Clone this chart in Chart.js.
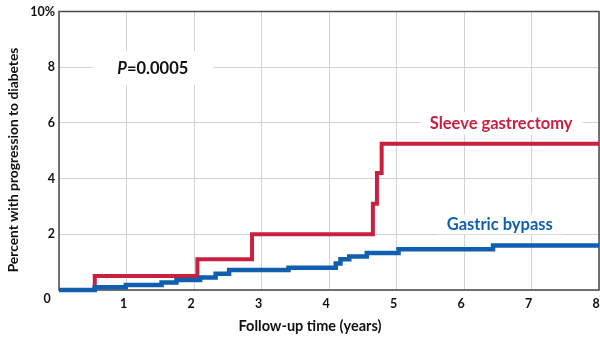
<!DOCTYPE html>
<html>
<head>
<meta charset="utf-8">
<script src="https://cdn.jsdelivr.net/npm/chart.js@4.4.0/dist/chart.umd.min.js"></script>
<style>
  html, body { margin: 0; padding: 0; background: #fff; }
  #wrap { width: 600px; height: 348px; }
</style>
</head>
<body>
<div id="wrap"><canvas id="kmChart"></canvas></div>
<script>
// follow-up years and cumulative % progression to diabetes (step curves)
const sleeveYears = [0, 0.53, 2.05, 2.86, 4.65, 4.71, 4.78, 8];
const sleeveValues = [0, 0.5, 1.1, 2.0, 3.1, 4.2, 5.25, 5.25];
const bypassYears = [0, 0.53, 0.99, 1.52, 1.74, 2.09, 2.32, 2.52, 3.4, 4.1, 4.17, 4.3, 4.56, 5.03, 6.43, 8];
const bypassValues = [0, 0.1, 0.18, 0.27, 0.36, 0.45, 0.58, 0.72, 0.8, 0.95, 1.1, 1.2, 1.33, 1.46, 1.6, 1.6];
const xTicks = [0, 1, 2, 3, 4, 5, 6, 7, 8];
const yTicks = [0, 2, 4, 6, 8, 10];
const seriesNames = ["Sleeve gastrectomy", "Gastric bypass"];
const pValueText = "0.0005";

const RED = "#c8203e";
const BLUE = "#0f5fae";
const FONT = "Lato, 'Open Sans', sans-serif";

// each point holds its value until the next year in the list
const toSteps = (xs, ys) => {
  const pts = [];
  xs.forEach((x, i) => {
    if (i > 0) pts.push({ x: x, y: ys[i - 1] });
    pts.push({ x: x, y: ys[i] });
  });
  return pts;
};

const labelBox = (ctx, text, cx, cy, font, color, padX, padY) => {
  ctx.font = font;
  const w = ctx.measureText(text).width;
  ctx.fillStyle = "#fff";
  ctx.fillRect(cx - w / 2 - padX, cy - 8 - padY, w + padX * 2, 16 + padY * 2);
  ctx.fillStyle = color;
  ctx.textAlign = "center";
  ctx.textBaseline = "middle";
  ctx.fillText(text, cx, cy);
};

// frame, in-plot labels and axis titles
const decorations = {
  id: "decorations",
  beforeDatasetsDraw(chart) {
    const { ctx, chartArea: a, scales } = chart;
    const x = scales.x, y = scales.y;
    ctx.save();

    // labels with white backing that hide the grid
    labelBox(ctx, seriesNames[0], x.getPixelForValue(6.55), y.getPixelForValue(5.98),
      "bold 16.5px " + FONT, RED, 10, 3);
    labelBox(ctx, seriesNames[1], x.getPixelForValue(6.53), y.getPixelForValue(2.36),
      "bold 16.5px " + FONT, BLUE, 10, 2);

    // P value, italic P
    const px = x.getPixelForValue(1.39), py = y.getPixelForValue(7.93);
    ctx.fillStyle = "#fff";
    ctx.fillRect(px - 60, py - 18, 120, 34);
    ctx.fillStyle = "#111";
    ctx.textBaseline = "middle";
    ctx.font = "italic bold 16.5px " + FONT;
    const pw = ctx.measureText("P").width;
    ctx.font = "bold 16.5px " + FONT;
    const rest = "=" + pValueText;
    const rw = ctx.measureText(rest).width;
    const startX = px - (pw + rw) / 2;
    ctx.textAlign = "left";
    ctx.font = "italic bold 16.5px " + FONT;
    ctx.fillText("P", startX, py);
    ctx.font = "bold 16.5px " + FONT;
    ctx.fillText(rest, startX + pw, py);

    // frame
    ctx.strokeStyle = "#4a4a4a";
    ctx.lineWidth = 1.5;
    ctx.strokeRect(a.left, a.top, a.right - a.left, a.bottom - a.top);

    // corner zero
    ctx.fillStyle = "#111";
    ctx.font = "bold 12.5px " + FONT;
    ctx.textAlign = "center";
    ctx.fillText("0", a.left - 12, a.bottom + 9);

    // axis titles
    ctx.font = "bold 14.5px " + FONT;
    ctx.fillText("Follow-up time (years)", 310, 326);
    ctx.font = "bold 13.8px " + FONT;
    ctx.translate(14, 160);
    ctx.rotate(-Math.PI / 2);
    ctx.fillText("Percent with progression to diabetes", 0, 0);
    ctx.restore();
  }
};

new Chart(document.getElementById("kmChart"), {
  type: "line",
  data: {
    datasets: [
      {
        label: seriesNames[1],
        data: toSteps(bypassYears, bypassValues),
        borderColor: BLUE,
        borderWidth: 4.5,
        pointRadius: 0,
        fill: false,
        clip: 6,
        order: 1
      },
      {
        label: seriesNames[0],
        data: toSteps(sleeveYears, sleeveValues),
        borderColor: RED,
        borderWidth: 4,
        pointRadius: 0,
        fill: false,
        clip: 6,
        order: 2
      }
    ]
  },
  options: {
    responsive: true,
    maintainAspectRatio: false,
    animation: false,
    layout: { padding: { top: 10, right: 1, left: 0, bottom: 0 } },
    plugins: {
      legend: { display: false },
      tooltip: { enabled: false }
    },
    scales: {
      x: {
        type: "linear",
        min: 0,
        max: 8,
        afterBuildTicks: (s) => { s.ticks = xTicks.map(v => ({ value: v })); },
        afterFit: (s) => { s.height = 58; s.paddingRight = 0; s.paddingLeft = 0; },
        ticks: {
          autoSkip: false,
          maxRotation: 0,
          padding: 6,
          labelOffset: -3,
          color: "#111",
          font: { family: FONT, size: 12.5, weight: "bold" },
          callback: (v) => (v === 0 ? "" : String(v))
        },
        grid: { color: "#d2d2d2", lineWidth: 1, drawTicks: false },
        border: { display: false }
      },
      y: {
        min: 0,
        max: 10,
        afterBuildTicks: (s) => { s.ticks = yTicks.map(v => ({ value: v })); },
        afterFit: (s) => { s.width = 59; },
        ticks: {
          padding: 4,
          color: "#111",
          font: { family: FONT, size: 12.5, weight: "bold" },
          callback: (v) => (v === 0 ? "" : v === 10 ? "10%" : String(v))
        },
        grid: { color: "#d2d2d2", lineWidth: 1, drawTicks: false },
        border: { display: false }
      }
    }
  },
  plugins: [decorations]
});
</script>
</body>
</html>
